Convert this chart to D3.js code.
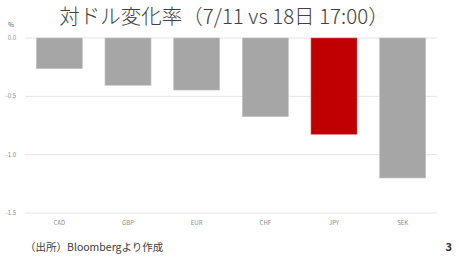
<!DOCTYPE html>
<html>
<head>
<meta charset="utf-8">
<script src="https://cdn.jsdelivr.net/npm/d3@7"></script>
<style>
  body { margin: 0; background: #fff; }
  text { font-family: "Noto Sans CJK JP", "Noto Sans", sans-serif; }
</style>
</head>
<body>
<div id="chart"></div>
<script>
// data
const currencies = ["CAD", "GBP", "EUR", "CHF", "JPY", "SEK"];
const changes = [-0.263, -0.405, -0.446, -0.674, -0.825, -1.20];
const highlight = ["JPY"];
const yTicks = [0, -0.5, -1.0, -1.5];

const width = 459, height = 258;
const svg = d3.select("#chart").append("svg")
  .attr("width", width)
  .attr("height", height);

const xScale = d3.scaleBand()
  .domain(currencies)
  .range([25, 437])
  .paddingInner(0.33)
  .paddingOuter(0.165);

const yScale = d3.scaleLinear()
  .domain([0, -1.5])
  .range([38, 213]);

// gridlines
svg.selectAll(".grid")
  .data(yTicks)
  .join("line")
  .attr("x1", 25)
  .attr("x2", 437)
  .attr("y1", d => yScale(d))
  .attr("y2", d => yScale(d))
  .attr("stroke", "#e4e4e4")
  .attr("stroke-width", 1);

// y tick labels
svg.selectAll(".ytick")
  .data(yTicks)
  .join("text")
  .attr("x", 16)
  .attr("y", d => yScale(d) + 2)
  .attr("text-anchor", "end")
  .attr("font-size", "6px")
  .attr("fill", "#8c8c8c")
  .text(d => d3.format(".1f")(d).replace("−", "-"));

// bars
svg.selectAll(".bar")
  .data(currencies.map((c, i) => ({ c, v: changes[i] })))
  .join("rect")
  .attr("x", d => xScale(d.c))
  .attr("y", yScale(0))
  .attr("width", xScale.bandwidth())
  .attr("height", d => yScale(d.v) - yScale(0))
  .attr("fill", d => highlight.includes(d.c) ? "#c00000" : "#a6a6a6")
  .attr("stroke", d => highlight.includes(d.c) ? "#d06060" : "#c4c4c4")
  .attr("stroke-width", 0.6);

// x labels
svg.selectAll(".xlabel")
  .data(currencies)
  .join("text")
  .attr("x", d => xScale(d) + xScale.bandwidth() / 2)
  .attr("y", 225)
  .attr("text-anchor", "middle")
  .attr("font-size", "6px")
  .attr("fill", "#8c8c8c")
  .text(d => d);

// unit
svg.append("text")
  .attr("x", 8)
  .attr("y", 27)
  .attr("font-size", "6.5px")
  .attr("fill", "#595959")
  .text("%");

// title
svg.append("text")
  .attr("x", 224)
  .attr("y", 24)
  .attr("text-anchor", "middle")
  .attr("font-size", "20.5px")
  .attr("font-weight", 300)
  .attr("fill", "#404040")
  .text("対ドル変化率（7/11 vs 18日 17:00）");

// source
svg.append("text")
  .attr("x", 25)
  .attr("y", 251)
  .attr("font-size", "10.5px")
  .attr("fill", "#404040")
  .text("（出所）Bloombergより作成");

// page number
svg.append("text")
  .attr("x", 452)
  .attr("y", 251)
  .attr("text-anchor", "end")
  .attr("font-size", "11px")
  .attr("font-weight", "bold")
  .attr("fill", "#333")
  .text("3");
</script>
</body>
</html>
